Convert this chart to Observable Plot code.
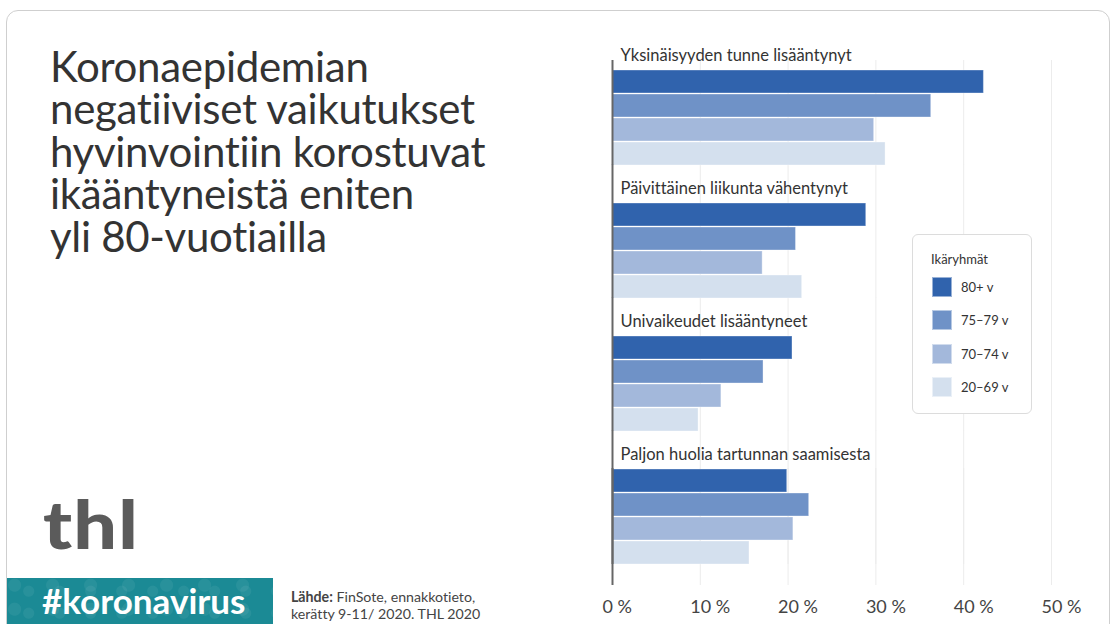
<!DOCTYPE html>
<html>
<head>
<meta charset="utf-8">
<script src="https://cdn.jsdelivr.net/npm/d3@7"></script>
<script src="https://cdn.jsdelivr.net/npm/@observablehq/plot@0.6"></script>
<style>
  html, body { margin: 0; padding: 0; background: #fff; }
  body { width: 1113px; height: 624px; position: relative; overflow: hidden; font-family: Lato, "Open Sans", sans-serif; color: #333; font-variant-ligatures: none; }
  .card { position: absolute; left: 6px; top: 10px; width: 1104px; height: 700px; border: 1.5px solid #cfcfcf; border-radius: 12px; box-sizing: border-box; }
  .title { position: absolute; left: 50px; top: 45px; font-size: 42px; line-height: 42.4px; color: #333; font-weight: 400; letter-spacing: -0.3px; }
  .thl { position: absolute; left: 43px; top: 484px; font-size: 66px; font-weight: 900; color: #5b5b5b; letter-spacing: 1px; transform: scaleX(1.17); transform-origin: left top; }
  .banner { position: absolute; left: 7px; top: 578px; width: 266px; height: 46px; background: #1b8a95; overflow: hidden;
    background-image: radial-gradient(circle at 20% 30%, rgba(255,255,255,0.06) 0 6px, transparent 7px), radial-gradient(circle at 70% 60%, rgba(255,255,255,0.06) 0 5px, transparent 6px);
    background-size: 38px 24px, 31px 22px; }
  .banner .tag { position: absolute; left: 35px; top: 0px; font-size: 35px; line-height: 44px; font-weight: 700; color: #fff; }
  .source { position: absolute; left: 291px; top: 588px; font-size: 14.2px; line-height: 17px; color: #444; }
  #chart { position: absolute; left: 560px; top: 40px; }
  .legend { position: absolute; left: 912px; top: 234px; width: 120px; height: 180px; border: 1px solid #dcdcdc; border-radius: 6px; background: #fff; box-sizing: border-box; }
  .legend .lt { position: absolute; left: 18px; top: 16px; font-size: 13px; color: #333; }
  .legend .item { position: absolute; left: 19px; height: 20px; font-size: 13px; color: #333; }
  .legend .sw { position: absolute; left: 0; top: 0; width: 20px; height: 20px; box-sizing: border-box; border: 1px solid rgba(255,255,255,0.5); }
  .legend .lab { position: absolute; left: 29px; top: 2px; white-space: nowrap; }
</style>
</head>
<body>
<div class="card"></div>
<div class="title">Koronaepidemian<br>negatiiviset vaikutukset<br>hyvinvointiin korostuvat<br>ikääntyneistä eniten<br>yli 80-vuotiailla</div>
<div class="thl">thl</div>
<div class="banner"><div class="tag">#koronavirus</div></div>
<div class="source"><b>Lähde:</b> FinSote, ennakkotieto,<br>kerätty 9-11/ 2020. THL 2020</div>
<div id="chart"></div>
<div class="legend" id="legend"><div class="lt">Ikäryhmät</div></div>
<script>
const groups = [
  "Yksinäisyyden tunne lisääntynyt",
  "Päivittäinen liikunta vähentynyt",
  "Univaikeudet lisääntyneet",
  "Paljon huolia tartunnan saamisesta"
];
const ages = ["80+ v", "75–79 v", "70–74 v", "20–69 v"];
const colors = ["#3063ad", "#6f92c7", "#a3b8db", "#d4e0ee"];
// percent values, per group, in order of ages
const v80 = [42.3, 28.9, 20.5, 19.9];
const v75 = [36.3, 20.9, 17.2, 22.4];
const v70 = [29.8, 17.1, 12.4, 20.6];
const v20 = [31.1, 21.6, 9.8, 15.6];
const xTicks = [0, 10, 20, 30, 40, 50];

const series = [v80, v75, v70, v20];
const data = [];
groups.forEach((g, gi) => ages.forEach((a, ai) => data.push({group: g, age: a, value: series[ai][gi]})));

const gridTicks = xTicks.slice(1);
const gridFirst = gridTicks.map(x => ({x, g: groups[0]}));
const gridRest = groups.slice(1).flatMap(g => gridTicks.map(x => ({x, g})));
const gridLast = gridTicks.map(x => ({x, g: groups[3]}));

const chart = Plot.plot({
  width: 553,
  height: 584,
  marginLeft: 52,
  marginRight: 62,
  marginTop: 29,
  marginBottom: 60,
  style: {fontFamily: "Lato, sans-serif", fontSize: "17px", color: "#444", background: "transparent"},
  x: {domain: [0, 50], axis: null},
  y: {domain: ages, axis: null, paddingInner: 0.06, paddingOuter: 0.02},
  fy: {domain: groups, axis: null, paddingInner: 0.28, paddingOuter: 0},
  color: {domain: ages, range: colors},
  marks: [
    Plot.ruleX(gridFirst, {x: "x", fy: "g", stroke: "#ececec", strokeWidth: 1, insetTop: -9}),
    Plot.ruleX(gridRest, {x: "x", fy: "g", stroke: "#ececec", strokeWidth: 1, insetTop: -37.3}),
    Plot.ruleX(gridLast, {x: "x", fy: "g", stroke: "#ececec", strokeWidth: 1, insetBottom: -21}),
    Plot.barX(data, {x: "value", y: "age", fy: "group", fill: "age", stroke: "#ffffff", strokeOpacity: 0.35, strokeWidth: 1}),
    Plot.text(groups, {fy: d => d, text: d => d, frameAnchor: "top-left", dx: 8, dy: -9, lineAnchor: "bottom", fontSize: 16.5, fill: "#333"}),
    Plot.ruleX([{x: 0, g: groups[0]}], {x: "x", fy: "g", stroke: "#666", strokeWidth: 2, insetTop: -9}),
    Plot.ruleX(groups.slice(1).map(g => ({x: 0, g})), {x: "x", fy: "g", stroke: "#666", strokeWidth: 2, insetTop: -37.3}),
    Plot.ruleX([{x: 0, g: groups[3]}], {x: "x", fy: "g", stroke: "#666", strokeWidth: 2, insetBottom: -21}),
    Plot.text(xTicks, {x: d => d, fy: () => groups[3], text: d => `${d} %`, frameAnchor: "bottom", lineAnchor: "bottom", textAnchor: "start", dx: -10, dy: 48, fontSize: 18, fill: "#444"})
  ]
});
document.getElementById("chart").appendChild(chart);

const legend = document.getElementById("legend");
ages.forEach((a, i) => {
  const it = document.createElement("div");
  it.className = "item";
  it.style.top = (42 + i * 33.4) + "px";
  it.innerHTML = `<div class="sw" style="background:${colors[i]}"></div><div class="lab">${a}</div>`;
  legend.appendChild(it);
});
</script>
</body>
</html>
